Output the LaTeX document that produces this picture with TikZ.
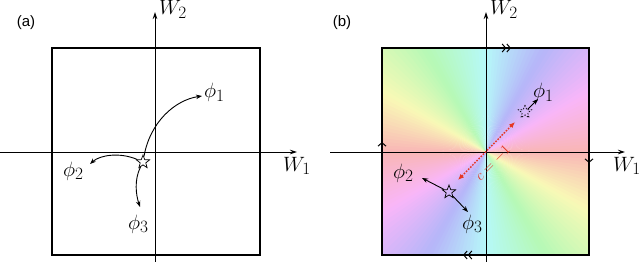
\documentclass[tikz,border=0pt]{standalone}
\usepackage[no-math]{fontspec}
\newfontfamily\labfont{Liberation Sans}
\usetikzlibrary{arrows.meta,shapes.geometric}
\DeclareMathSizes{20}{20}{17}{14}
\DeclareMathSizes{14}{14}{10}{7}
\definecolor{redline}{RGB}{230,55,35}
\begin{document}
\begin{tikzpicture}[x=1pt,y=-1pt,
  every node/.style={inner sep=0pt},
  ax/.style={line width=0.9pt, -{Stealth[length=7pt,width=4.5pt]}},
  frame/.style={line width=1.1pt},
  arr/.style={line width=0.9pt, -{Stealth[length=6pt,width=4.5pt]}},
  st/.style={star, star points=5, star point ratio=2.4, draw, line width=0.7pt, minimum size=14pt, inner sep=0pt},
  lbl/.style={font=\fontsize{20}{24}\selectfont, anchor=base west},
  tag/.style={font=\labfont\fontsize{15}{18}\selectfont},
  mk/.style={line width=1.6pt},
  mkone/.style={mk, -{Straight Barb[length=3.5pt,width=8pt,line width=1pt]}},
  mktwo/.style={mk, -{Straight Barb[length=3.5pt,width=8pt,line width=1pt] Straight Barb[length=3.5pt,width=8pt,line width=1pt]}},
  rarr/.style={draw=redline, line width=1.4pt, dash pattern=on 1.6pt off 1.4pt, {Latex[length=6pt,width=5pt,fill=redline]}-{Latex[length=6pt,width=5pt,fill=redline]}}
]
\useasboundingbox (0,0) rectangle (640,262);

% ---------------- panel (a)
\node[tag] (ta) at (26,23) {(a)};
\draw[frame] (52,48) rectangle (260,255);
\coordinate (a1s) at (0,152); \coordinate (a1e) at (297,152);
\coordinate (a2s) at (155,262); \coordinate (a2e) at (155,12);
\draw[ax] (a1s) -- (a1e);
\draw[ax] (a2s) -- (a2e);
\node[lbl] (w1a) at (283,171) {$W_1$};
\node[lbl] (w2a) at (159,15) {$W_2$};

\node[st] (sa) at (143,162) {};
\coordinate (t1a) at (202,96);
\coordinate (t2a) at (90,164);
\coordinate (t3a) at (140,207);
\draw[arr] (sa) .. controls (150,122) and (175,100) .. (t1a);
\draw[arr] (sa) .. controls (120,152) and (100,155) .. (t2a);
\draw[arr] (sa) .. controls (134,180) and (136,195) .. (t3a);
\node[lbl] (p1a) at (204,98) {$\phi_1$};
\node[lbl] (p2a) at (63,176) {$\phi_2$};
\node[lbl] (p3a) at (128,229) {$\phi_3$};

% ---------------- panel (b)
\node[tag] (tb) at (342,23) {(b)};
\begin{scope}
  \clip (382,48) rectangle (589,255);
  \foreach \a in {0,2,...,358}{
    \pgfmathsetmacro\h{mod(2*\a+2,360)}
    \definecolor{wc}{Hsb}{\h,0.27,0.975}
    \fill[wc] (486,152) -- +(\a-0.3:160) -- +(\a+2.3:160) -- cycle;
  }
\end{scope}
\draw[frame] (382,48) rectangle (589,255);
\coordinate (b1s) at (330,152); \coordinate (b1e) at (625,152);
\coordinate (b2s) at (486,262); \coordinate (b2e) at (486,12);
\draw[ax] (b1s) -- (b1e);
\draw[ax] (b2s) -- (b2e);
\node[lbl] (w1b) at (613,171) {$W_1$};
\node[lbl] (w2b) at (490,15) {$W_2$};

% boundary identification marks
\coordinate (mt0) at (486,48); \coordinate (mt1) at (511,48);
\coordinate (mb0) at (486,255); \coordinate (mb1) at (463,255);
\coordinate (ml0) at (382,164); \coordinate (ml1) at (382,142);
\coordinate (mr0) at (589,141); \coordinate (mr1) at (589,163);
\draw[mktwo] (mt0) -- (mt1);
\draw[mktwo] (mb0) -- (mb1);
\draw[mkone] (ml0) -- (ml1);
\draw[mkone] (mr0) -- (mr1);

% red symmetry arrow
\coordinate (r1) at (458,180); \coordinate (r2) at (515,122);
\draw[rarr] (r1) -- (r2);
\node[rotate=45, text=redline, font=\fontsize{14}{16}\selectfont] (cl) at (493,163) {$c=-1$};

% stars and arrows
\node[st] (sb) at (449,192) {};
\node[st, dash pattern=on 1.5pt off 1.5pt] (sd) at (525,112) {};
\coordinate (t1b) at (538,99);
\coordinate (t2b) at (422,178);
\coordinate (t3b) at (468,212);
\draw[arr] (sd) -- (t1b);
\draw[arr] (sb) -- (t2b);
\draw[arr] (sb) -- (t3b);
\node[lbl] (p1b) at (533,98) {$\phi_1$};
\node[lbl] (p2b) at (393,178) {$\phi_2$};
\node[lbl] (p3b) at (462,229) {$\phi_3$};
\end{tikzpicture}
\end{document}
